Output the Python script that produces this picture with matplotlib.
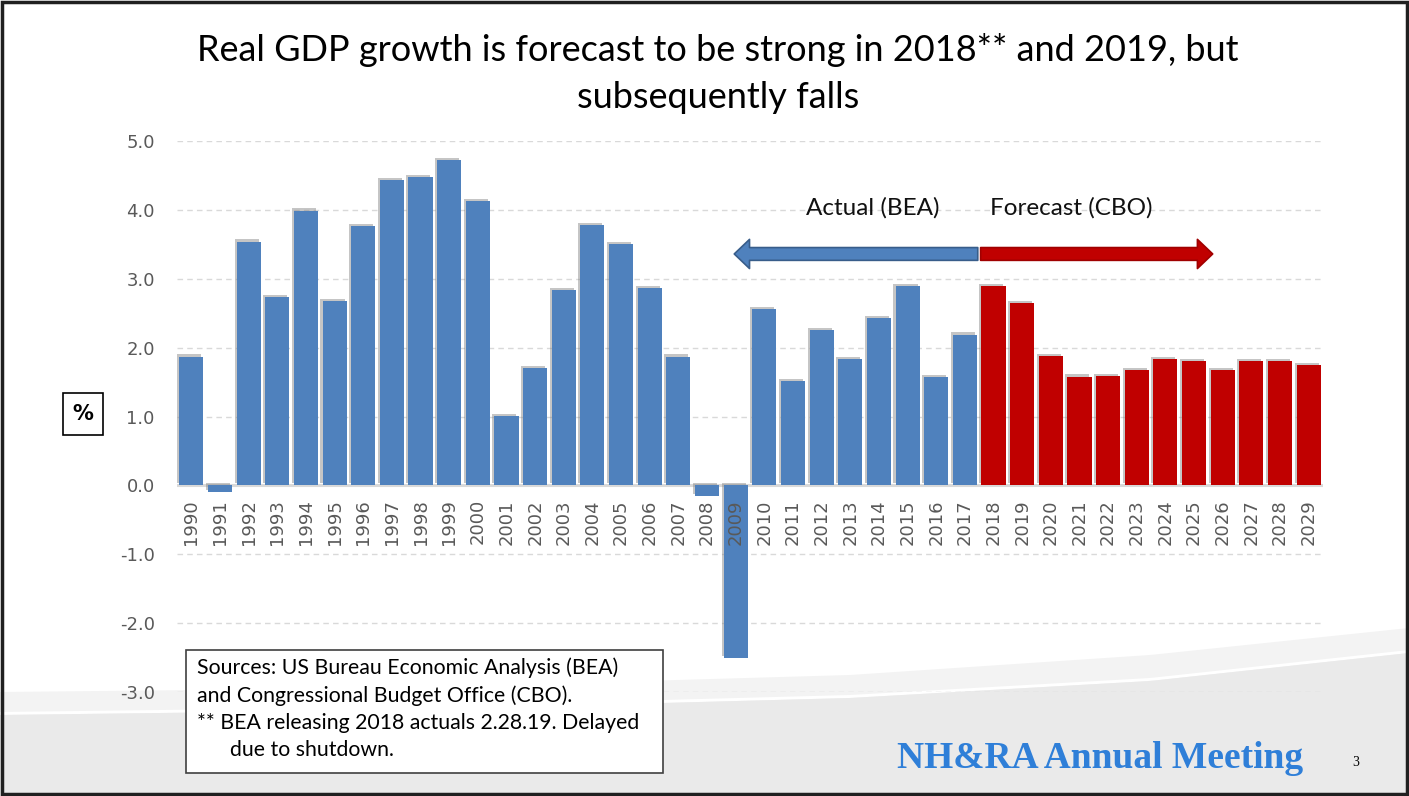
import numpy as np
import matplotlib.pyplot as plt
import matplotlib.patheffects as pe
from matplotlib.patches import Rectangle

# real GDP growth, %
years = [str(y) for y in range(1990, 2030)]
actual = [1.87, -0.10, 3.54, 2.74, 3.99, 2.68, 3.76, 4.43, 4.48, 4.73,
          4.13, 1.01, 1.71, 2.84, 3.78, 3.51, 2.87, 1.87, -0.15, -2.51,
          2.56, 1.52, 2.26, 1.84, 2.43, 2.89, 1.57, 2.19]
forecast = [2.89, 2.65, 1.88, 1.58, 1.59, 1.67, 1.83, 1.81, 1.68, 1.81, 1.80, 1.75]
yticks = [-3.0, -2.0, -1.0, 0.0, 1.0, 2.0, 3.0, 4.0, 5.0]

blue = '#4F81BD'
red = '#C00000'
W, H = 1409, 796

fig = plt.figure(figsize=(W / 100, H / 100), dpi=100)
fig.patch.set_facecolor('white')

# slide background (pixel coords)
bg = fig.add_axes([0, 0, 1, 1], zorder=0)
bg.set_xlim(0, W)
bg.set_ylim(H, 0)
bg.axis('off')
sx = np.linspace(0, W, 200)
band_top = np.interp(sx, [0, 400, 850, 1150, 1409], [692, 688, 675, 655, 628])
line_top = np.interp(sx, [0, 400, 850, 1150, 1409], [712, 707, 695, 678, 650])
bg.fill_between(sx, band_top, H, color='#F3F3F3', lw=0)
bg.fill_between(sx, line_top, line_top + 3, color='white', lw=0)
bg.fill_between(sx, line_top + 3, H, color='#EAEAEA', lw=0)

# main chart
ax = fig.add_axes([177 / W, 1 - 692 / H, (1323 - 177) / W, (692 - 141) / H], zorder=2)
ax.set_facecolor('none')
x_act = np.arange(len(actual))
x_fc = np.arange(len(actual), len(years))
shadow = [pe.SimplePatchShadow(offset=(-1.5, 1.5), shadow_rgbFace='#808080', alpha=0.45), pe.Normal()]
b1 = ax.bar(x_act, actual, width=0.84, color=blue, zorder=3)
b2 = ax.bar(x_fc, forecast, width=0.84, color=red, zorder=3)
for b in list(b1) + list(b2):
    b.set_path_effects(shadow)

ax.set_xlim(-0.5, len(years) - 0.5)
ax.set_ylim(-3, 5)
ax.set_yticks(yticks)
ax.set_yticklabels([f'{v:.1f}' for v in yticks], fontsize=13, color='#595959')
ax.tick_params(axis='y', length=0, pad=16)
ax.set_xticks([])
for s in ax.spines.values():
    s.set_visible(False)
for v in yticks:
    if v != 0:
        ax.axhline(v, color='#D9D9D9', lw=1, ls=(0, (4, 3)), zorder=0)
ax.axhline(0, color='#D9D9D9', lw=2.2, zorder=1)

for i, yr in enumerate(years):
    ax.text(i, -0.2, yr, rotation=90, ha='center', va='top',
            fontsize=13, color='#595959', zorder=4)

# actual / forecast arrows
astyle = 'simple,head_length=1.1,head_width=2.1,tail_width=0.92'
ax.annotate('', xy=(18.95, 3.36), xytext=(27.45, 3.36),
            arrowprops=dict(arrowstyle=astyle, mutation_scale=10, fc=blue,
                            ec='#385D8A', lw=1.2, shrinkA=0, shrinkB=0), zorder=5)
ax.annotate('', xy=(35.65, 3.36), xytext=(27.55, 3.36),
            arrowprops=dict(arrowstyle=astyle, mutation_scale=10, fc=red,
                            ec='#A00000', lw=1.2, shrinkA=0, shrinkB=0), zorder=5)
ax.text(23.8, 4.03, 'Actual (BEA)', ha='center', va='center', fontsize=17.5,
        family='Lato', color='#111111', zorder=5)
ax.text(30.7, 4.03, 'Forecast (CBO)', ha='center', va='center', fontsize=17.5,
        family='Lato', color='#111111', zorder=5)

# overlay: title, notes, footer
ov = fig.add_axes([0, 0, 1, 1], zorder=3)
ov.set_xlim(0, W)
ov.set_ylim(H, 0)
ov.axis('off')
ov.patch.set_alpha(0)

ov.text(718, 50, 'Real GDP growth is forecast to be strong in 2018** and 2019, but',
        ha='center', va='center', fontsize=26, family='Lato', color='black')
ov.text(718, 97, 'subsequently falls', ha='center', va='center',
        fontsize=26, family='Lato', color='black')

ov.add_patch(Rectangle((63, 393), 40, 42, fc='white', ec='black', lw=1.2))
ov.text(83, 414, '%', ha='center', va='center', fontsize=15, fontweight='bold', color='black')

ov.add_patch(Rectangle((186, 650), 477, 123, fc='white', ec='#404040', lw=1.2))
notes = ['Sources: US Bureau Economic Analysis (BEA)',
         'and Congressional Budget Office (CBO).',
         '** BEA releasing 2018 actuals 2.28.19. Delayed',
         '      due to shutdown.']
for k, line in enumerate(notes):
    ov.text(197, 674 + k * 27.5, line, ha='left', va='baseline', fontsize=15.3,
            family='Lato', color='black')

ov.text(1100, 758, 'NH&RA Annual Meeting', ha='center', va='center', fontsize=27,
        fontweight='bold', family='Liberation Serif', color='#2F7FD8')
ov.text(1356, 762, '3', ha='center', va='center', fontsize=10,
        family='Liberation Serif', color='black')

ov.add_patch(Rectangle((1.5, 1.5), W - 4, H - 4, fc='none', ec='#202020', lw=2.5))

fig.savefig('out.png', dpi=100)
